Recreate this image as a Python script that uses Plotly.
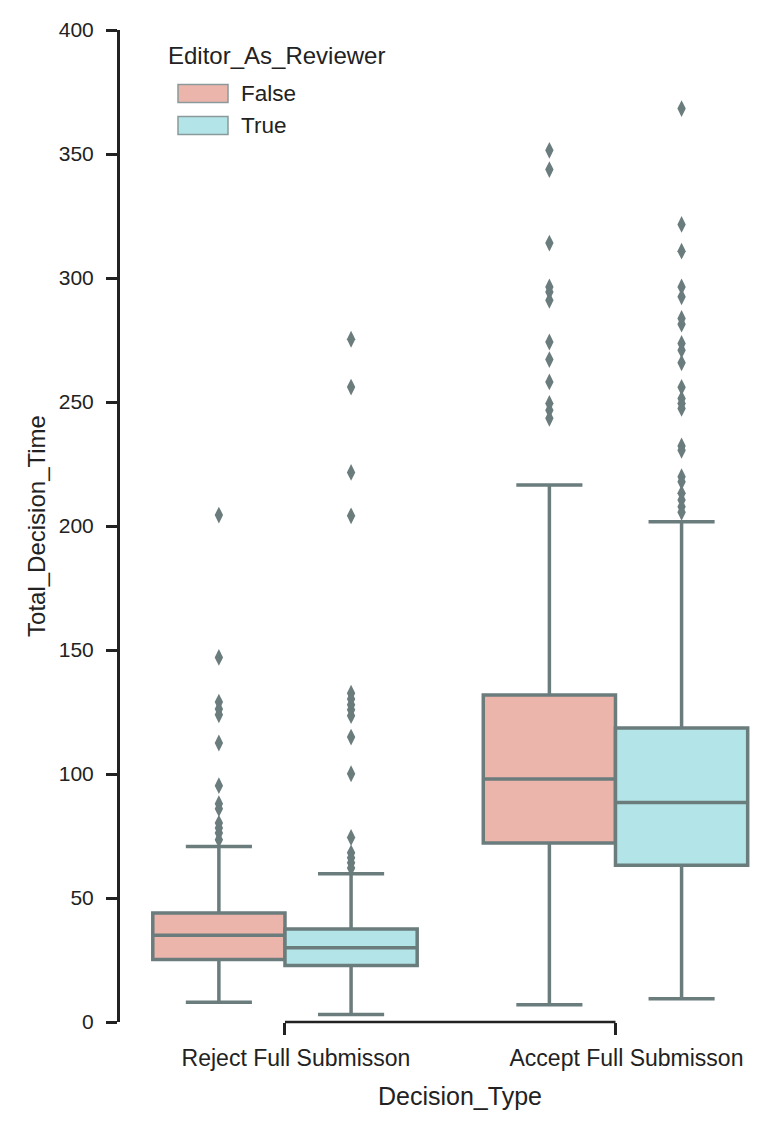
import plotly.graph_objects as go

# ---------------- data ----------------
categories = ["Reject Full Submisson", "Accept Full Submisson"]
hue_levels = ["False", "True"]

false_q1 = [25.2, 72.2]
false_median = [35.0, 98.0]
false_q3 = [44.0, 131.9]
false_lower = [8.0, 7.0]
false_upper = [70.8, 216.5]

true_q1 = [22.8, 63.2]
true_median = [29.9, 88.5]
true_q3 = [37.5, 118.5]
true_lower = [3.0, 9.4]
true_upper = [59.8, 201.7]

false_outliers_reject = [204.4, 147.0, 129.0, 126.2, 123.9, 112.5, 95.3, 88.0, 86.0,
                         80.2, 78.2, 76.2, 73.5]
true_outliers_reject = [275.3, 256.0, 221.6, 204.1, 132.6, 130.2, 127.9, 125.9, 123.5,
                        114.9, 100.1, 74.4, 68.2, 66.2, 64.2, 62.1]
false_outliers_accept = [351.5, 343.7, 314.1, 296.4, 294.4, 291.0, 274.2, 267.1, 258.1,
                         249.4, 246.7, 243.4]
true_outliers_accept = [368.3, 321.6, 310.8, 296.4, 292.4, 283.7, 281.4, 273.6, 270.9,
                        265.8, 255.9, 251.4, 249.4, 247.4, 232.3, 230.5, 219.9, 217.8,
                        213.2, 210.5, 207.8, 205.5]

y_ticks = [0, 50, 100, 150, 200, 250, 300, 350, 400]

# ---------------- style ----------------
FONT = "Liberation Sans, Arial, Helvetica, sans-serif"
TEXT = "#222222"
GRAY = "#6b7c7d"
FILLS = {"False": "#ecb5ab", "True": "#b3e4e7"}
BOX_W = 0.4
OFFSETS = {"False": -0.2, "True": 0.2}

PAGE_OFF = 8  # default body margin of the page
W, H = 772 - PAGE_OFF, 1132 - PAGE_OFF
ML, MR, MT, MB = 120 - PAGE_OFF, 0, 29.5 - PAGE_OFF, 1132 - 1022.5
PW, PH = W - ML - MR, H - MT - MB

stats = {
    "False": (false_q1, false_median, false_q3, false_lower, false_upper,
              [false_outliers_reject, false_outliers_accept]),
    "True": (true_q1, true_median, true_q3, true_lower, true_upper,
             [true_outliers_reject, true_outliers_accept]),
}

fig = go.Figure()
for hue in hue_levels:
    q1, med, q3, lo, hi, outs = stats[hue]
    pos = [i + OFFSETS[hue] for i in range(len(categories))]
    fig.add_trace(go.Box(
        x=pos, q1=q1, median=med, q3=q3, lowerfence=lo, upperfence=hi,
        width=BOX_W, orientation="v", boxpoints=False,
        fillcolor=FILLS[hue], line=dict(color=GRAY, width=3.5),
        whiskerwidth=0.5, name=hue, showlegend=False, hoverinfo="skip",
    ))
    ox, oy = [], []
    for i, vals in enumerate(outs):
        ox += [pos[i]] * len(vals)
        oy += vals
    fig.add_trace(go.Scatter(
        x=ox, y=oy, mode="markers", showlegend=False, hoverinfo="skip",
        marker=dict(symbol="diamond-tall", size=12, color=GRAY,
                    line=dict(width=0)),
    ))


def px_x(px):
    return (px - PAGE_OFF - ML) / PW


def px_y(py):
    return (H - MB - (py - PAGE_OFF)) / PH


shapes = [
    # trimmed x axis spine from first to last category
    dict(type="line", xref="x", yref="paper", x0=0, x1=len(categories) - 1,
         y0=0, y1=0, line=dict(color=TEXT, width=2.5)),
]
annotations = [
    dict(text="Editor_As_Reviewer", xref="paper", yref="paper",
         x=px_x(166), y=px_y(55), xanchor="left", yanchor="middle",
         showarrow=False, font=dict(family=FONT, size=24, color=TEXT)),
    dict(text="Decision_Type", xref="paper", yref="paper",
         x=px_x(460), y=px_y(1097), xanchor="center", yanchor="middle",
         showarrow=False, font=dict(family=FONT, size=25, color=TEXT)),
]
for k, hue in enumerate(hue_levels):
    cy = 93 + k * 32
    shapes.append(dict(type="rect", xref="paper", yref="paper",
                       x0=px_x(178), x1=px_x(228), y0=px_y(cy - 9), y1=px_y(cy + 9),
                       fillcolor=FILLS[hue], line=dict(color="#8a9a9b", width=1.5)))
    annotations.append(dict(text=hue, xref="paper", yref="paper",
                            x=px_x(239), y=px_y(cy), xanchor="left", yanchor="middle",
                            showarrow=False, font=dict(family=FONT, size=22.5, color=TEXT)))

fig.update_layout(
    width=W, height=H,
    margin=dict(l=ML, r=MR, t=MT, b=MB, pad=0),
    paper_bgcolor="white", plot_bgcolor="white",
    boxmode="overlay",
    font=dict(family=FONT, size=22, color=TEXT),
    shapes=shapes, annotations=annotations,
    xaxis=dict(
        range=[-0.4992, 1.4736], tickvals=list(range(len(categories))),
        ticktext=categories, showline=False, showgrid=False, zeroline=False,
        ticks="outside", ticklen=12, tickwidth=2.5, tickcolor=TEXT,
        ticklabelstandoff=3, ticklabelshift=11,
        tickfont=dict(family=FONT, size=23, color=TEXT),
    ),
    yaxis=dict(
        range=[0, 400], tickvals=y_ticks, showline=True, linewidth=3,
        linecolor=TEXT, showgrid=False, zeroline=False,
        ticks="outside", ticklen=11, tickwidth=2.5, tickcolor=TEXT,
        ticklabelstandoff=8,
        tickfont=dict(family=FONT, size=21, color=TEXT),
        title=dict(text="Total_Decision_Time", font=dict(family=FONT, size=24, color=TEXT),
                   standoff=7),
    ),
)

fig.write_html("out.html")
